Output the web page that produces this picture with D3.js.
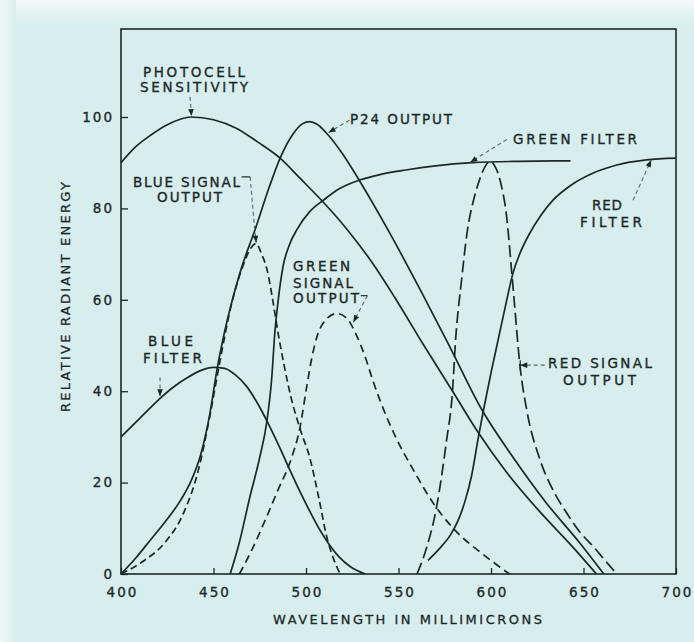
<!DOCTYPE html>
<html>
<head>
<meta charset="utf-8">
<script src="https://cdn.jsdelivr.net/npm/d3@7"></script>
<style>
  html, body { margin: 0; padding: 0; background: #d8eeee; }
  svg { display: block; }
  text { font-family: "DejaVu Sans", "Liberation Sans", sans-serif; fill: #1d2a2a; }
</style>
</head>
<body>
<svg id="chart" width="694" height="642"></svg>
<script>
// ---- Data: wavelength (millimicrons) vs. relative radiant energy ----
const wavelengthTicks = [400, 450, 500, 550, 600, 650, 700];
const energyTicks = [0, 20, 40, 60, 80, 100];

const photocellSensitivity = [
  [400, 90], [408, 93.5], [416, 96], [425, 98.3], [438, 100], [450, 99.4],
  [462, 97.6], [474, 94.5], [486, 91], [497, 86.5], [509, 81.5], [522, 75.5],
  [536, 68], [548, 60.5], [563, 50.5], [580, 39.5], [593, 31], [608, 22.5],
  [626, 13.8], [644, 6], [657, 0]
];

const p24Output = [
  [400, 0], [408, 3.5], [416, 7.5], [424, 11.5], [432, 16], [438, 20.5],
  [443, 26], [448, 35], [452, 45], [456, 53], [464, 65.5], [473, 76],
  [480, 84.5], [486, 91], [493, 96.3], [498, 98.5], [502, 99], [506, 98.4],
  [511, 96.5], [520, 91.8], [529, 86], [545, 74.8], [562, 62], [578, 49.5],
  [595, 36], [612, 25.5], [630, 15.5], [648, 6.8], [661, 0]
];

const blueFilter = [
  [400, 30], [410, 34], [420, 38], [428, 40.8], [436, 43], [443, 44.5],
  [450, 45.2], [456, 45], [462, 43.5], [468, 41], [474, 37.2], [480, 32.6],
  [486, 27.5], [491, 23], [497, 17.8], [503, 13], [508, 9.3], [513, 6.2],
  [518, 3.7], [524, 1.6], [532, 0]
];

const greenFilter = [
  [459, 0], [463.4, 6], [469.7, 16.9], [475.1, 25.7], [478.7, 33], [481.4, 42.5],
  [483.2, 53], [485, 60], [487.7, 67.5], [491, 72], [495, 75.3], [502, 79.3],
  [509.4, 81.8], [518, 84.3], [529, 86.2], [540, 87.4], [554, 88.4], [570, 89.3],
  [590, 90], [615, 90.3], [643, 90.4]
];

const redFilter = [
  [566, 3], [572, 5.5], [578, 8.5], [582, 11.5], [586, 16], [589.5, 21.5],
  [593, 29.5], [596, 36], [600, 44], [604, 51.5], [608, 59], [612, 66],
  [616, 70.5], [621, 74.6], [627, 78.5], [633.5, 81.8], [644, 85.3], [655, 87.7],
  [668, 89.5], [684, 90.6], [700, 91]
];

const blueSignalOutput = [
  [400, 0], [412, 2.8], [424, 7], [434, 13.5], [442, 23], [448, 34.5],
  [453, 45.5], [460, 59.5], [466, 67.5], [470, 71.2], [473, 72.3], [476, 70],
  [479, 66.5], [482, 60], [485, 52.5], [488, 46], [492, 38.5], [497, 31.5],
  [502, 25.5], [507, 16.5], [511, 8.5], [515, 3.2], [518.5, 0]
];

const greenSignalOutput = [
  [464, 0], [471, 5.5], [478.7, 12.5], [485, 18.5], [491.4, 24.5], [496.8, 32.2],
  [500.4, 41], [503, 47], [506, 52], [510, 55.3], [516.6, 57], [522, 56],
  [527, 52.5], [532, 47.5], [536, 42.5], [540, 38], [549, 29.5], [558, 22.8],
  [568.8, 15.5], [580.5, 9.6], [595.7, 4.3], [610, 0]
];

const redSignalOutput = [
  [560, 0], [565, 5.5], [570.6, 14.7], [576, 29.3], [579, 39], [581, 52],
  [584, 64], [587, 74.5], [591, 82.5], [594, 86.5], [597, 89.3], [599.5, 90.3],
  [602, 89.3], [605, 86], [608.5, 78], [611, 67], [612.5, 60], [615.7, 45.4],
  [619.3, 35.9], [626.5, 25], [634, 18], [641, 13.3], [648, 9.2], [655.3, 6],
  [662, 2.8], [668, 0]
];

// ---- Layout ----
const svg = d3.select("#chart");
const W = 694, H = 642;
const plot = { left: 121, right: 676, top: 29, bottom: 574 };

const x = d3.scaleLinear().domain([400, 700]).range([plot.left, plot.right]);
const y = d3.scaleLinear().domain([0, 100]).range([plot.bottom, 117]);

const ink = "#1b2828";

// paper background, lighter along the top and left edges
const defs = svg.append("defs");
const gTop = defs.append("linearGradient").attr("id", "fadeTop")
  .attr("x1", 0).attr("y1", 0).attr("x2", 0).attr("y2", 1);
gTop.append("stop").attr("offset", 0).attr("stop-color", "#f3fafa");
gTop.append("stop").attr("offset", 1).attr("stop-color", "#d8eeee");
const gLeft = defs.append("linearGradient").attr("id", "fadeLeft")
  .attr("x1", 0).attr("y1", 0).attr("x2", 1).attr("y2", 0);
gLeft.append("stop").attr("offset", 0).attr("stop-color", "#eef8f8");
gLeft.append("stop").attr("offset", 1).attr("stop-color", "#d8eeee", 0);

svg.append("rect").attr("width", W).attr("height", H).attr("fill", "#d8eeee");
svg.append("rect").attr("width", W).attr("height", 24).attr("fill", "url(#fadeTop)");
svg.append("rect").attr("width", 16).attr("height", H).attr("fill", "url(#fadeLeft)");

// frame around the plotting area
svg.append("rect")
  .attr("x", x(400)).attr("y", plot.top)
  .attr("width", x(700) - x(400)).attr("height", y(0) - plot.top)
  .attr("fill", "none").attr("stroke", ink).attr("stroke-width", 1.6);

// axes with inward ticks
const yAxis = d3.axisLeft(y).tickValues(energyTicks)
  .tickSizeInner(-7).tickSizeOuter(0).tickPadding(9).tickFormat(d3.format("d"));
const xAxis = d3.axisBottom(x).tickValues(wavelengthTicks)
  .tickSizeInner(-6).tickSizeOuter(0).tickPadding(13).tickFormat(d3.format("d"));

const gy = svg.append("g").attr("transform", `translate(${x(400)},0)`).call(yAxis);
const gx = svg.append("g").attr("transform", `translate(0,${y(0)})`).call(xAxis);
[gy, gx].forEach(g => {
  g.select(".domain").remove();
  g.selectAll(".tick line").attr("stroke", ink).attr("stroke-width", 1.3);
  g.selectAll(".tick text").attr("fill", ink)
    .attr("stroke", ink).attr("stroke-width", 0.35)
    .style("font-family", '"DejaVu Sans", sans-serif')
    .style("font-size", "13.5px").style("letter-spacing", "2px");
});
gy.selectAll(".tick text").attr("dx", "2px");
gx.selectAll(".tick text").attr("dx", "1px");

// axis titles
svg.append("text")
  .attr("x", 407.5).attr("y", 624)
  .attr("text-anchor", "middle")
  .attr("textLength", 269).attr("lengthAdjust", "spacing")
  .attr("stroke", ink).attr("stroke-width", 0.3)
  .style("font-size", "13px")
  .text("WAVELENGTH IN MILLIMICRONS");

svg.append("text")
  .attr("transform", "translate(70,297) rotate(-90)")
  .attr("text-anchor", "middle")
  .attr("textLength", 230).attr("lengthAdjust", "spacing")
  .attr("stroke", ink).attr("stroke-width", 0.3)
  .style("font-size", "13px")
  .text("RELATIVE RADIANT ENERGY");

// ---- Curves ----
const line = d3.line()
  .x(d => x(d[0])).y(d => y(d[1]))
  .curve(d3.curveMonotoneX);

const curves = [
  { data: photocellSensitivity, dash: null },
  { data: p24Output, dash: null },
  { data: blueFilter, dash: null },
  { data: greenFilter, dash: null },
  { data: redFilter, dash: null },
  { data: blueSignalOutput, dash: "7,4" },
  { data: greenSignalOutput, dash: "8,5" },
  { data: redSignalOutput, dash: "12,5" }
];

svg.append("g").selectAll("path").data(curves).join("path")
  .attr("d", d => line(d.data))
  .attr("fill", "none")
  .attr("stroke", ink)
  .attr("stroke-width", 1.7)
  .attr("stroke-linejoin", "round")
  .attr("stroke-dasharray", d => d.dash);

// ---- Annotations (anchored in wavelength / energy units) ----
const notes = [
  { lines: [["PHOTOCELL", 411.9, 108.75, 102], ["SENSITIVITY", 410.3, 105.5, 108]],
    pointer: [[437.3, 104.4], [438.1, 100.2]], solidLead: false },
  { lines: [["BLUE SIGNAL", 406.5, 84.7, 107], ["OUTPUT", 419.5, 81.4, 65]],
    pointer: [[465.2, 86.9], [469.8, 86.9], [472.4, 74.8], [473.1, 72.5]], solidLead: true },
  { lines: [["P24 OUTPUT", 523.8, 98.5, 102]],
    pointer: [[523.5, 99.3], [512.2, 96.6]], solidLead: false },
  { lines: [["GREEN FILTER", 611.9, 94.1, 124]],
    pointer: [[608.6, 95.1], [588.8, 90.1]], solidLead: false },
  { lines: [["RED", 654.6, 79.6, 30], ["FILTER", 648.1, 76.0, 62]],
    pointer: [[676.8, 81.8], [686.6, 90.6]], solidLead: false },
  { lines: [["GREEN", 493, 66.2, 57], ["SIGNAL", 493, 62.6, 60], ["OUTPUT", 493, 59.3, 66]],
    pointer: [[529.6, 60.9], [533.2, 60.9], [529.6, 58.2], [525.6, 55.1]], solidLead: true },
  { lines: [["BLUE", 414.6, 49.8, 45], ["FILTER", 411.9, 46.2, 59]],
    pointer: [[421.1, 43.0], [421.1, 38.9]], solidLead: false },
  { lines: [["RED SIGNAL", 630.8, 45.1, 104], ["OUTPUT", 638.9, 41.4, 73]],
    pointer: [[629.0, 45.7], [615.8, 45.7]], solidLead: false, bar: true }
];

const ann = svg.append("g");
notes.forEach(n => {
  n.lines.forEach(([t, wx, wy, w]) => {
    ann.append("text")
      .attr("x", x(wx)).attr("y", y(wy))
      .attr("textLength", w).attr("lengthAdjust", "spacing")
      .attr("stroke", ink).attr("stroke-width", 0.35)
      .style("font-size", "13.5px")
      .text(t);
  });
  const pts = n.pointer.map(p => [x(p[0]), y(p[1])]);
  if (n.solidLead) {
    ann.append("path")
      .attr("d", d3.line()(pts.slice(0, 2)))
      .attr("fill", "none").attr("stroke", ink).attr("stroke-width", 1.2);
    ann.append("path")
      .attr("d", d3.line()(pts.slice(1)))
      .attr("fill", "none").attr("stroke", "#55696a").attr("stroke-width", 1.1)
      .attr("stroke-dasharray", "4,3");
  } else {
    ann.append("path")
      .attr("d", d3.line()(pts))
      .attr("fill", "none").attr("stroke", "#55696a").attr("stroke-width", 1.1)
      .attr("stroke-dasharray", "4,3");
  }
  // arrowhead at the tip
  const tip = pts[pts.length - 1], prev = pts[pts.length - 2];
  const ang = Math.atan2(tip[1] - prev[1], tip[0] - prev[0]);
  const len = 7, half = 2.8;
  const bx = tip[0] - len * Math.cos(ang), by = tip[1] - len * Math.sin(ang);
  const px = -Math.sin(ang) * half, py = Math.cos(ang) * half;
  ann.append("path")
    .attr("d", `M${tip[0]},${tip[1]}L${bx + px},${by + py}L${bx - px},${by - py}Z`)
    .attr("fill", ink);
  if (n.bar) {
    ann.append("line")
      .attr("x1", tip[0]).attr("x2", tip[0])
      .attr("y1", tip[1] - 5).attr("y2", tip[1] + 5)
      .attr("stroke", ink).attr("stroke-width", 1.2);
  }
});
</script>
</body>
</html>
